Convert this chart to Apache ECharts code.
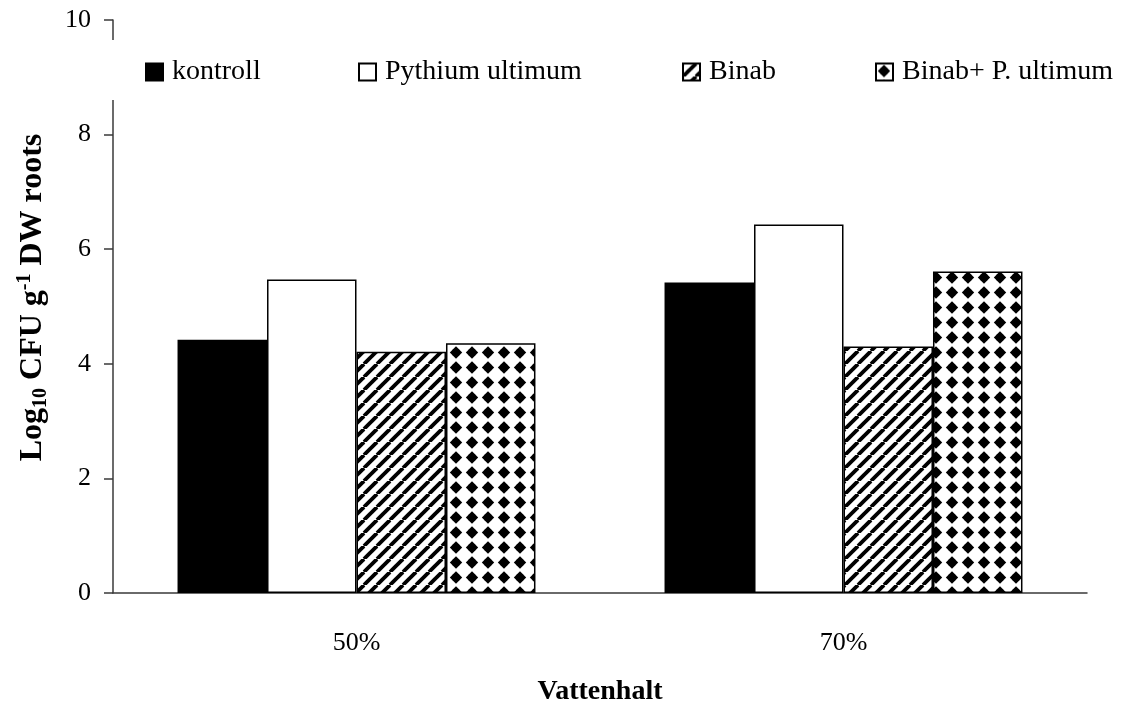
<!DOCTYPE html>
<html>
<head>
<meta charset="utf-8">
<script src="https://cdn.jsdelivr.net/npm/echarts@6/dist/echarts.min.js"></script>
<style>html,body{margin:0;padding:0;background:#fff;}#c{width:1126px;height:709px;}</style>
</head>
<body>
<div id="c"></div>
<script>
const categories = ['50%', '70%'];
const seriesNames = ['kontroll', 'Pythium ultimum', 'Binab', 'Binab+ P. ultimum'];
const kontroll = [4.42, 5.42];
const pythium = [5.47, 6.43];
const binab = [4.21, 4.30];
const binabP = [4.36, 5.61];
const yMin = 0, yMax = 10, yInterval = 2;

function stripePattern() {
  const s = 13;
  const c = document.createElement('canvas');
  c.width = s; c.height = s;
  const g = c.getContext('2d');
  g.fillStyle = '#fff'; g.fillRect(0, 0, s, s);
  g.strokeStyle = '#000'; g.lineWidth = 3.8;
  for (const o of [-s, 0, s]) {
    g.beginPath(); g.moveTo(o, s); g.lineTo(o + s, 0); g.stroke();
  }
  return { image: c, repeat: 'repeat' };
}
function diamondPattern() {
  const w = 16, h = 15;
  const c = document.createElement('canvas');
  c.width = w; c.height = h;
  const g = c.getContext('2d');
  g.fillStyle = '#fff'; g.fillRect(0, 0, w, h);
  g.fillStyle = '#000';
  const cx = 8, cy = 7.5, r = 6.2;
  g.beginPath();
  g.moveTo(cx, cy - r); g.lineTo(cx + r, cy); g.lineTo(cx, cy + r); g.lineTo(cx - r, cy);
  g.closePath(); g.fill();
  g.fillRect(cx - 3.2, cy - 3.2, 6.4, 6.4);
  return { image: c, repeat: 'repeat' };
}

const fills = ['#000', '#fff', stripePattern(), diamondPattern()];
const values = [kontroll, pythium, binab, binabP];
const serif = '"Liberation Serif", "Times New Roman", serif';

const legendLefts = [106, 358, 682, 875];
const legends = seriesNames.map((n, i) => ({
  data: [n],
  left: legendLefts[i],
  top: i === 0 ? 40 : 58,
  padding: i === 0 ? [18, 20, 14, 39] : 0,
  backgroundColor: i === 0 ? '#fff' : 'transparent',
  itemWidth: 17, itemHeight: 17, itemGap: 0,
  icon: 'rect',
  textStyle: { fontFamily: serif, fontSize: 28, lineHeight: 28, color: '#000', padding: [0, 0, 0, 4] },
  selectedMode: false,
  z: 10
}));

const chart = echarts.init(document.getElementById('c'));
chart.setOption({
  animation: false,
  backgroundColor: '#fff',
  legend: legends,
  grid: { left: 113, right: 39, top: 20, bottom: 116, containLabel: false, outerBoundsMode: 'none' },
  xAxis: {
    type: 'category',
    data: categories,
    name: 'Vattenhalt',
    nameLocation: 'middle',
    nameGap: 85,
    nameTextStyle: { fontFamily: serif, fontSize: 28, fontWeight: 'bold', color: '#000' },
    axisLine: { lineStyle: { color: '#3a3a3a', width: 1.5 } },
    axisTick: { length: 10, lineStyle: { color: '#3a3a3a', width: 1.5 } },
    axisLabel: { fontFamily: serif, fontSize: 26, color: '#000', margin: 37 }
  },
  yAxis: {
    type: 'value',
    min: yMin, max: yMax, interval: yInterval,
    name: '{n|Log}{s|10}{n| CFU g}{p|-1}{n| DW roots}',
    nameLocation: 'middle',
    nameRotate: 90,
    nameGap: 62,
    nameTextStyle: {
      fontFamily: serif, fontWeight: 'bold', color: '#000',
      padding: [0, 0, 0, 18],
      rich: {
        n: { fontFamily: serif, fontSize: 32, fontWeight: 'bold', color: '#000', lineHeight: 36, verticalAlign: 'middle' },
        s: { fontFamily: serif, fontSize: 20, fontWeight: 'bold', color: '#000', lineHeight: 36, verticalAlign: 'bottom', padding: [12, 0, 0, 0] },
        p: { fontFamily: serif, fontSize: 20, fontWeight: 'bold', color: '#000', lineHeight: 36, verticalAlign: 'top', padding: [0, 0, 14, 0] }
      }
    },
    splitLine: { show: false },
    axisLine: { show: true, lineStyle: { color: '#3a3a3a', width: 1.5 } },
    axisTick: { show: true, length: 9, lineStyle: { color: '#3a3a3a', width: 1.5 } },
    axisLabel: { fontFamily: serif, fontSize: 26, color: '#000', margin: 22 }
  },
  series: seriesNames.map((n, i) => ({
    name: n,
    type: 'bar',
    data: values[i],
    barGap: '0%',
    barCategoryGap: '26.5%',
    itemStyle: { color: fills[i], borderColor: '#000', borderWidth: 1.5 }
  }))
});
</script>
</body>
</html>
